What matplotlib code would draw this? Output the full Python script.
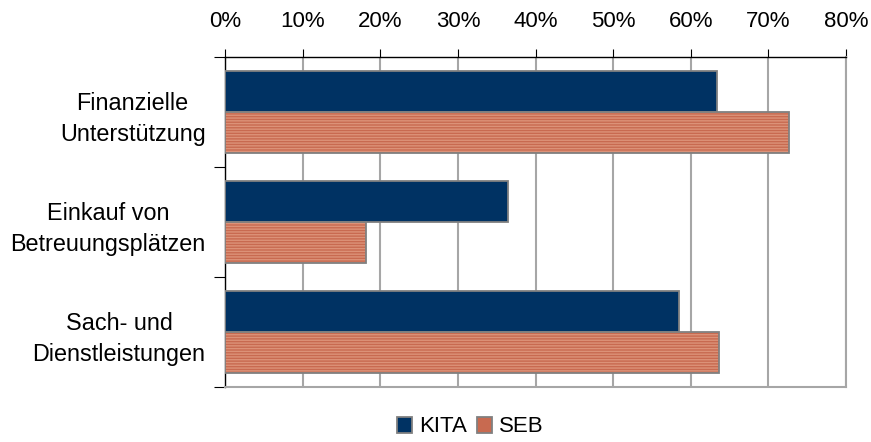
import numpy as np
import matplotlib.pyplot as plt
from matplotlib.patches import Patch

plt.rcParams['font.family'] = ['Liberation Sans', 'DejaVu Sans']

# Data
categories = ["Finanzielle\nUnterstützung", "Einkauf von\nBetreuungsplätzen", "Sach- und\nDienstleistungen"]
kita = [63.4, 36.4, 58.5]
seb = [72.7, 18.1, 63.7]
xticks = [0, 10, 20, 30, 40, 50, 60, 70, 80]

kita_color = "#003263"
seb_color = "#c86a50"
stripe_color = "#dc9278"
edge = "#808080"
fs = 16

fig = plt.figure(figsize=(8.71, 4.42), dpi=100)
ax = fig.add_axes([225 / 871, 1 - 387 / 442, 621 / 871, 330 / 442])

y = np.arange(len(categories))
h = 0.37

ax.barh(y - h / 2, kita, height=h, color=kita_color, edgecolor=edge, linewidth=1.3, zorder=3)
ax.barh(y + h / 2, seb, height=h, color=seb_color, hatch="------", edgecolor=stripe_color, linewidth=0, zorder=3)
ax.barh(y + h / 2, seb, height=h, fill=False, edgecolor=edge, linewidth=1.3, zorder=4)

ax.set_xlim(0, 80)
ax.set_ylim(2.5, -0.5)
ax.xaxis.tick_top()
ax.set_xticks(xticks)
ax.set_xticklabels([f"{t}%" for t in xticks])
ax.tick_params(axis="x", length=6, width=0.8, color="black", pad=12, labelsize=fs)
ax.grid(axis="x", color="#a6a6a6", linewidth=1.5, zorder=0)

ax.set_yticks(y)
ax.set_yticklabels(categories, ha="right", multialignment="center", fontsize=16.8, linespacing=1.45)
ax.tick_params(axis="y", length=0, pad=14)
ax.set_yticks([-0.5, 0.5, 1.5, 2.5], minor=True)
ax.tick_params(axis="y", which="minor", length=8, width=0.8, color="black")

for s in ["left", "top"]:
    ax.spines[s].set_color("black")
    ax.spines[s].set_linewidth(1.0)
ax.spines["bottom"].set_color("#a6a6a6")
ax.spines["bottom"].set_linewidth(1.5)
ax.spines["right"].set_color("#a6a6a6")
ax.spines["right"].set_linewidth(1.5)

handles = [
    Patch(facecolor=kita_color, edgecolor=edge, linewidth=1.3, label="KITA"),
    Patch(facecolor=seb_color, edgecolor=edge, linewidth=1.3, label="SEB"),
]
fig.legend(handles=handles, loc="center", bbox_to_anchor=(470 / 871, 1 - 427 / 442), ncol=2,
           frameon=False, fontsize=fs, handlelength=0.7, handleheight=0.7,
           handletextpad=0.3, columnspacing=0.45, borderpad=0)

fig.savefig("out.png", dpi=100)
